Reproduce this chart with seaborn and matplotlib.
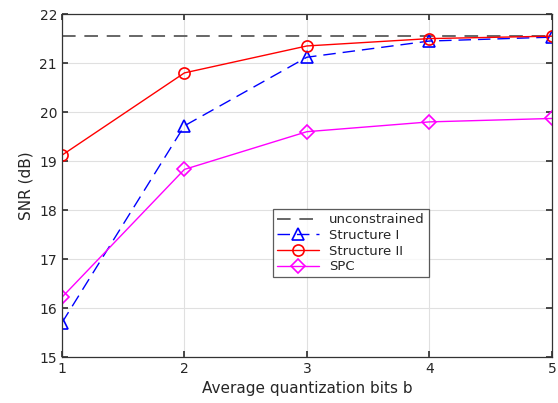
import numpy as np
import pandas as pd
import matplotlib.pyplot as plt
import seaborn as sns

# ========== Data ==========
bits = [1, 2, 3, 4, 5]
unconstrained = [21.56, 21.56, 21.56, 21.56, 21.56]
structure_1 = [15.70, 19.72, 21.12, 21.45, 21.53]
structure_2 = [19.12, 20.80, 21.35, 21.50, 21.55]
spc = [16.22, 18.83, 19.60, 19.80, 19.87]

series_names = ["unconstrained", "Structure I", "Structure II", "SPC"]
df = pd.DataFrame({
    "b": bits * 4,
    "snr": unconstrained + structure_1 + structure_2 + spc,
    "name": np.repeat(series_names, len(bits)),
})

sns.set_theme(style="whitegrid")
plt.rcParams['font.family'] = ['DejaVu Sans']

fig, ax = plt.subplots(figsize=(5.58, 4.03), dpi=100)

# style per series
colors = {"unconstrained": "#666666", "Structure I": "blue",
          "Structure II": "red", "SPC": "magenta"}
markers = {"unconstrained": None, "Structure I": "^",
           "Structure II": "o", "SPC": "D"}
msizes = {"unconstrained": 0, "Structure I": 8.5, "Structure II": 8, "SPC": 7}
styles = {"unconstrained": (0, (7, 4.5)), "Structure I": (0, (9, 5)),
          "Structure II": "-", "SPC": "-"}
widths = {"unconstrained": 1.4, "Structure I": 1.0,
          "Structure II": 1.0, "SPC": 1.0}

for name in series_names:
    sub = df[df["name"] == name]
    sns.lineplot(data=sub, x="b", y="snr", ax=ax, color=colors[name],
                 marker=markers[name], markersize=msizes[name],
                 markerfacecolor="none", markeredgecolor=colors[name],
                 markeredgewidth=1.2, linewidth=widths[name],
                 linestyle=styles[name], label=name)

ax.set_xlim(1, 5)
ax.set_ylim(15, 22)
ax.set_xticks([1, 2, 3, 4, 5])
ax.set_yticks(range(15, 23))
ax.set_xlabel("Average quantization bits b", fontsize=11)
ax.set_ylabel("SNR (dB)", fontsize=11)
ax.tick_params(direction="in", length=4, labelsize=10, top=True, right=True,
               bottom=True, left=True, color="#333333")
ax.grid(True, color="#e0e0e0", linewidth=0.8)
for s in ax.spines.values():
    s.set_color("#333333")
    s.set_linewidth(0.9)

leg = ax.legend(loc="lower left", bbox_to_anchor=(0.43, 0.233), fontsize=9.5,
                frameon=True, fancybox=False, borderpad=0.3, labelspacing=0.2,
                handlelength=3.2, borderaxespad=0)
leg.get_frame().set_edgecolor("#333333")
leg.get_frame().set_linewidth(0.9)

fig.subplots_adjust(left=0.111, right=0.989, top=0.965, bottom=0.114)
fig.savefig("out.png", dpi=100)
